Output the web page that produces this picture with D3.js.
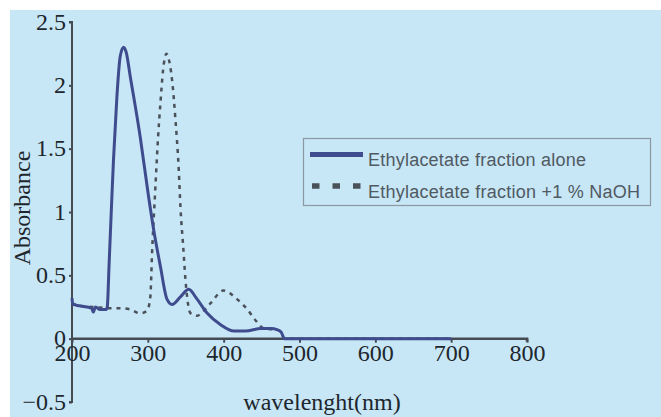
<!DOCTYPE html>
<html><head><meta charset="utf-8">
<script src="https://cdn.jsdelivr.net/npm/d3@7"></script>
<style>html,body{margin:0;padding:0;background:#fff;}svg{display:block;}</style>
</head><body>
<script>
const seriesNames = ["Ethylacetate fraction alone", "Ethylacetate fraction +1 % NaOH"];
const xTicks = [200, 300, 400, 500, 600, 700, 800];
const yTicks = [-0.5, 0, 0.5, 1, 1.5, 2, 2.5];
const yTickLabels = ["\u22120.5", "0", "0.5", "1", "1.5", "2", "2.5"];
const xTitle = "wavelenght(nm)";
const yTitle = "Absorbance";

const aloneWl  = [200, 201, 210, 220, 226, 228, 231, 237, 245, 246.5, 249, 252.6, 254.7, 259.2, 263.6, 268, 271.5, 276.8, 290, 301, 307.7, 316.6, 325.4, 332, 343, 354, 364, 378.4, 396, 413.6, 429, 449, 462, 471, 476, 480, 500, 600, 700];
const aloneAbs = [0.32, 0.27, 0.26, 0.25, 0.24, 0.21, 0.25, 0.23, 0.23, 0.25, 0.6, 1.12, 1.41, 1.91, 2.23, 2.30, 2.26, 2.07, 1.59, 1.12, 0.86, 0.57, 0.31, 0.27, 0.33, 0.39, 0.32, 0.20, 0.11, 0.06, 0.06, 0.08, 0.08, 0.07, 0.05, 0.0, 0.0, 0.0, 0.0];

const naohWl  = [200, 210, 230, 250, 265, 277, 290, 299, 303.3, 305.6, 310, 313.5, 316.6, 320.1, 324.5, 327, 332, 336.4, 340.8, 343, 346.6, 349.7, 356.3, 365, 372, 382.8, 399.6, 418, 431.4, 440, 453.4, 470, 476, 480, 500, 600, 700];
const naohAbs = [0.28, 0.26, 0.25, 0.24, 0.24, 0.23, 0.20, 0.22, 0.33, 0.68, 1.20, 1.59, 1.86, 2.12, 2.25, 2.22, 2.04, 1.73, 1.33, 1.04, 0.73, 0.46, 0.20, 0.18, 0.21, 0.28, 0.38, 0.31, 0.23, 0.16, 0.08, 0.07, 0.05, 0.0, 0.0, 0.0, 0.0];

const W = 661, H = 417;
const svg = d3.select("body").append("svg").attr("width", W).attr("height", H);
svg.append("rect").attr("x", 10).attr("y", 10).attr("width", W - 10).attr("height", H - 10).attr("fill", "#c7e6f6");

const x = d3.scaleLinear().domain([200, 800]).range([72, 527]);
const y = d3.scaleLinear().domain([-0.5, 2.5]).range([402, 22]);

const axisColor = "#454b52";
const serif = "'Liberation Serif', 'DejaVu Serif', serif";

// Y axis
const yAxis = svg.append("g").attr("transform", `translate(${x(200)},0)`)
  .call(d3.axisLeft(y).tickValues(yTicks).tickSize(3).tickFormat((d, i) => yTickLabels[i]));
yAxis.select(".domain").attr("stroke", axisColor).attr("stroke-width", 2).attr("d", `M-3,${y(2.5)}H0V${y(-0.5)}H-3`);
yAxis.selectAll(".tick line").attr("stroke", axisColor).attr("stroke-width", 2);
yAxis.selectAll(".tick text").attr("font-family", serif).attr("font-size", 24).attr("fill", "#1e272d").attr("x", -6).attr("dy", "0.3em");

// X axis at y=0
const xAxis = svg.append("g").attr("transform", `translate(0,${y(0)})`)
  .call(d3.axisBottom(x).tickValues(xTicks).tickSize(4).tickFormat(d3.format("d")));
xAxis.select(".domain").attr("stroke", axisColor).attr("stroke-width", 2.5).attr("d", `M${x(200)},0H${x(800)}V3`);
xAxis.selectAll(".tick line").attr("stroke", axisColor).attr("stroke-width", 2);
xAxis.selectAll(".tick text").attr("font-family", serif).attr("font-size", 24).attr("fill", "#1e272d").attr("y", 5).attr("dy", "0.71em");

// Titles
svg.append("text").attr("x", 322).attr("y", 410).attr("text-anchor", "middle")
  .attr("font-family", serif).attr("font-size", 24).attr("fill", "#1e272d").text(xTitle);
svg.append("text").attr("transform", "translate(30,208) rotate(-90)").attr("text-anchor", "middle")
  .attr("font-family", serif).attr("font-size", 24).attr("fill", "#1e272d").text(yTitle);

// Lines
const line = d3.line().x(d => x(d[0])).y(d => y(d[1])).curve(d3.curveMonotoneX);
const naohData = naohWl.map((w, i) => [w, naohAbs[i]]);
const aloneData = aloneWl.map((w, i) => [w, aloneAbs[i]]);

svg.append("path").datum(naohData).attr("d", line).attr("fill", "none")
  .attr("stroke", "#4a5159").attr("stroke-width", 2.5).attr("stroke-dasharray", "4,5");
svg.append("path").datum(aloneData).attr("d", line).attr("fill", "none")
  .attr("stroke", "#3e4c8e").attr("stroke-width", 3).attr("stroke-linejoin", "round");

// Legend
const lg = svg.append("g");
lg.append("rect").attr("x", 303.5).attr("y", 138.5).attr("width", 347).attr("height", 67)
  .attr("fill", "#c7e6f6").attr("stroke", "#8b98a2").attr("stroke-width", 1.2);
lg.append("line").attr("x1", 310).attr("x2", 363).attr("y1", 154.5).attr("y2", 154.5)
  .attr("stroke", "#3e4c8e").attr("stroke-width", 5);
lg.append("line").attr("x1", 312).attr("x2", 362).attr("y1", 186).attr("y2", 186)
  .attr("stroke", "#4a5159").attr("stroke-width", 5.5).attr("stroke-dasharray", "7.5,13");
const sans = "'Liberation Sans', Arial, sans-serif";
lg.append("text").attr("x", 368).attr("y", 166).attr("font-family", sans).attr("font-size", 18)
  .attr("fill", "#505a62").attr("textLength", 218).attr("lengthAdjust", "spacing").text(seriesNames[0]);
lg.append("text").attr("x", 368).attr("y", 198).attr("font-family", sans).attr("font-size", 18)
  .attr("fill", "#505a62").attr("textLength", 272).attr("lengthAdjust", "spacing").text(seriesNames[1]);
</script>
</body></html>
